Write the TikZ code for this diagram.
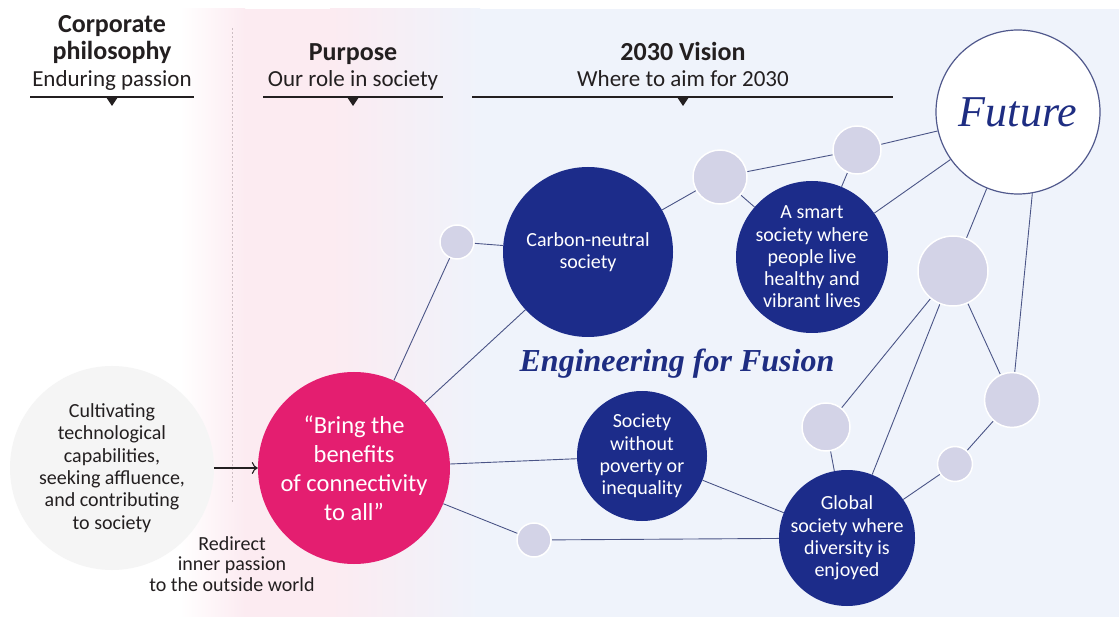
\documentclass[tikz,border=0pt]{standalone}
\usepackage{fontspec}
\setmainfont{Carlito}
\newfontfamily\lserif{Liberation Serif}
\usetikzlibrary{arrows.meta}
\definecolor{dkblue}{RGB}{28,44,138}
\definecolor{pinkc}{RGB}{228,30,112}
\definecolor{lav}{RGB}{211,211,231}
\definecolor{linec}{RGB}{75,85,135}
\definecolor{bluebg}{RGB}{239,243,251}
\definecolor{pinkbg}{RGB}{252,235,241}
\definecolor{graybg}{RGB}{245,245,245}
\definecolor{txt}{RGB}{35,31,32}
\definecolor{fusc}{RGB}{30,45,130}
\definecolor{futline}{RGB}{80,88,140}
\definecolor{dotc}{RGB}{205,190,195}
\pgfdeclarelayer{bg}
\pgfdeclarelayer{links}
\pgfsetlayers{bg,links,main}
\begin{document}
\begin{tikzpicture}[x=1pt,y=-1pt,
  big/.style={circle, fill=dkblue, text=white, align=center, font=\fontsize{20}{22.3}\selectfont, inner sep=-30pt},
  dot/.style={circle, fill=lav, draw=white, line width=1.5pt, inner sep=0pt},
  link/.style={draw=linec, line width=0.9pt},
  hdr/.style={font=\bfseries\fontsize{26}{27}\selectfont, text=txt, inner sep=0pt},
  sub/.style={font=\fontsize{23}{26}\selectfont, text=txt, anchor=base, inner sep=0pt},
  body/.style={font=\fontsize{20}{22.3}\selectfont, text=txt, align=center, inner sep=0pt},
]
\useasboundingbox (0,0) rectangle (1119,617);
\begin{pgfonlayer}{bg}
  \fill[white] (0,0) rectangle (1119,617);
  \fill[bluebg] (470,9) rectangle (1119,617);
  \shade[left color=white, right color=pinkbg] (180,9) rectangle (245,617);
  \fill[pinkbg] (244,9) rectangle (331,617);
  \shade[left color=pinkbg, right color=bluebg] (330,9) rectangle (480,617);
  \draw[dotc, line width=0.6pt, dash pattern=on 2pt off 2pt] (232,28) -- (232,503);
\end{pgfonlayer}

% header
\node[hdr, align=center] (corp) at (112,40) {Corporate\\philosophy};
\node[sub] (corpsub) at (112,87) {Enduring passion};
\node[hdr, anchor=base] (purp) at (353,61) {Purpose};
\node[sub] (purpsub) at (353,87) {Our role in society};
\node[hdr, anchor=base] (vis) at (683,61) {2030 Vision};
\node[sub] (vissub) at (683,87) {Where to aim for 2030};
\foreach \a/\b/\m in {30/194/112, 263/443/353, 472/893/683} {
  \draw[txt, line width=1.3pt] (\a,97) -- (\b,97);
  \fill[txt] (\m-6,97) -- (\m+6,97) -- (\m,106) -- cycle;
}

% left side
\node[circle, fill=graybg, minimum size=204pt, body, inner sep=-30pt] (cult) at (112,468)
  {Cultivating\\technological\\capabilities,\\seeking affluence,\\and contributing\\to society};
\node[body, font=\fontsize{20}{20.5}\selectfont] (redir) at (232,564) {Redirect\\inner passion\\to the outside world};

% main circles
\node[circle, fill=pinkc, text=white, align=center, font=\fontsize{24.5}{29}\selectfont, minimum size=192pt, inner sep=-30pt] (bring) at (354,468) {“Bring the\\benefits\\of connectivity\\to all”};
\node[big, minimum size=170pt] (carbon) at (588,252) {Carbon-neutral\\society};
\node[big, minimum size=152pt] (smart) at (812,257) {A smart\\society where\\people live\\healthy and\\vibrant lives};
\node[big, minimum size=130pt] (poverty) at (642,456) {Society\\without\\poverty or\\inequality};
\node[big, minimum size=136pt] (global) at (847,538) {Global\\society where\\diversity is\\enjoyed};
\node[circle, fill=white, draw=futline, line width=1.2pt, minimum size=164pt, inner sep=0pt, text=fusc, font=\lserif\itshape\fontsize{44}{48}\selectfont] (future) at (1018,112) {Future};

% small dots
\node[dot, minimum size=34pt] (s1) at (457,242) {};
\node[dot, minimum size=54pt] (s2) at (720,177) {};
\node[dot, minimum size=48pt] (s3) at (857,150) {};
\node[dot, minimum size=70pt] (s4) at (953,271) {};
\node[dot, minimum size=55pt] (s5) at (1012,400) {};
\node[dot, minimum size=48pt] (s6) at (826,427) {};
\node[dot, minimum size=35pt] (s7) at (955,464) {};
\node[dot, minimum size=34pt] (s8) at (534,540) {};

\node[text=fusc, font=\lserif\bfseries\itshape\fontsize{32}{36}\selectfont, inner sep=0pt] (eff) at (677,364) {Engineering for Fusion};

% arrow
\draw[txt, line width=1.1pt, -{To[length=6pt,width=12pt]}] (cult) -- (bring);

% links
\begin{pgfonlayer}{links}
  \draw[link] (bring) -- (s1);
  \draw[link] (bring) -- (carbon);
  \draw[link] (bring) -- (poverty);
  \draw[link] (bring) -- (s8);
  \draw[link] (s1) -- (carbon);
  \draw[link] (carbon) -- (s2);
  \draw[link] (s2) -- (smart);
  \draw[link] (s2) -- (s3);
  \draw[link] (s3) -- (future);
  \draw[link] (s3) -- (smart);
  \draw[link] (smart) -- (future);
  \draw[link] (future) -- (s4);
  \draw[link] (future.-80) -- (s5);
  \draw[link] (s4) -- (s5);
  \draw[link] (s4) -- (s6);
  \draw[link] (s4) -- (global);
  \draw[link] (s6) -- (global);
  \draw[link] (s5) -- (s7);
  \draw[link] (s7) -- (global);
  \draw[link] (poverty) -- (global);
  \draw[link] (s8) -- (global);
\end{pgfonlayer}
\end{tikzpicture}
\end{document}
